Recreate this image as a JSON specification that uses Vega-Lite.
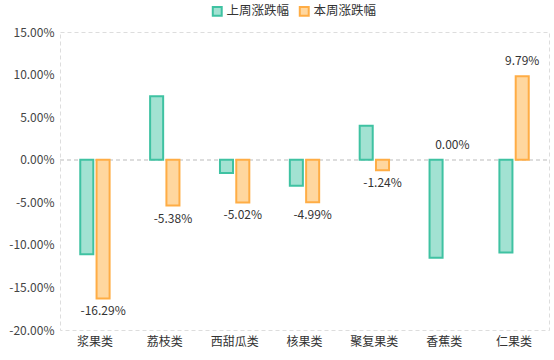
{
  "$schema": "https://vega.github.io/schema/vega-lite/v6.json",
  "autosize": {"type": "none"},
  "width": 489,
  "height": 298,
  "padding": {"left": 60, "top": 32, "right": 5, "bottom": 30},
  "background": "#ffffff",
  "config": {
    "font": "Noto Sans CJK SC",
    "view": {"stroke": "#dddddd", "strokeDash": [4, 3], "strokeWidth": 1}
  },
  "data": {
    "values": [
      {"cat": "浆果类", "series": "上周涨跌幅", "value": -11.1},
      {"cat": "浆果类", "series": "本周涨跌幅", "value": -16.29},
      {"cat": "荔枝类", "series": "上周涨跌幅", "value": 7.44},
      {"cat": "荔枝类", "series": "本周涨跌幅", "value": -5.38},
      {"cat": "西甜瓜类", "series": "上周涨跌幅", "value": -1.55},
      {"cat": "西甜瓜类", "series": "本周涨跌幅", "value": -5.02},
      {"cat": "核果类", "series": "上周涨跌幅", "value": -3.06},
      {"cat": "核果类", "series": "本周涨跌幅", "value": -4.99},
      {"cat": "聚复果类", "series": "上周涨跌幅", "value": 4.0},
      {"cat": "聚复果类", "series": "本周涨跌幅", "value": -1.24},
      {"cat": "香蕉类", "series": "上周涨跌幅", "value": -11.5},
      {"cat": "香蕉类", "series": "本周涨跌幅", "value": 0.0},
      {"cat": "仁果类", "series": "上周涨跌幅", "value": -10.9},
      {"cat": "仁果类", "series": "本周涨跌幅", "value": 9.79}
    ]
  },
  "encoding": {
    "x": {
      "field": "cat",
      "type": "nominal",
      "sort": null,
      "scale": {"paddingInner": 0.58, "paddingOuter": 0.29},
      "axis": {
        "title": null,
        "labelAngle": 0,
        "domain": false,
        "ticks": false,
        "labelColor": "#333333",
        "labelFontSize": 12,
        "labelPadding": 6
      }
    },
    "xOffset": {
      "field": "series",
      "type": "nominal",
      "sort": ["上周涨跌幅", "本周涨跌幅"],
      "scale": {"paddingInner": 0.2, "paddingOuter": 0}
    },
    "y": {
      "field": "value",
      "type": "quantitative",
      "scale": {"domain": [-20, 15], "nice": false, "zero": true},
      "axis": {
        "title": null,
        "values": [-20, -15, -10, -5, 0, 5, 10, 15],
        "labelExpr": "(datum.value < 0 ? '-' : '') + format(abs(datum.value), '.2f') + '%'",
        "grid": false,
        "domain": false,
        "ticks": false,
        "labelColor": "#444444",
        "labelFontSize": 12,
        "labelPadding": 6
      }
    }
  },
  "layer": [
    {
      "mark": {"type": "rule", "color": "#dddddd", "strokeDash": [4, 3], "strokeWidth": 1},
      "encoding": {"y": {"datum": 0}, "x": {"value": 0}, "x2": {"value": 489}, "xOffset": null}
    },
    {
      "mark": {"type": "bar", "strokeWidth": 2},
      "encoding": {
        "color": {
          "field": "series",
          "type": "nominal",
          "sort": ["上周涨跌幅", "本周涨跌幅"],
          "scale": {"range": ["#a2e2d2", "#ffd79f"]},
          "legend": {
            "title": null,
            "orient": "none",
            "direction": "horizontal",
            "legendX": 151,
            "legendY": -27,
            "symbolType": "square",
            "symbolSize": 80,
            "symbolStrokeWidth": 2,
            "labelFontSize": 12.5,
            "labelColor": "#333333",
            "columnPadding": 5,
            "labelOffset": 3,
            "encode": {
              "symbols": {"update": {"stroke": {"scale": "stroke", "field": "value"}, "strokeWidth": {"value": 2}}}
            }
          }
        },
        "stroke": {
          "field": "series",
          "type": "nominal",
          "sort": ["上周涨跌幅", "本周涨跌幅"],
          "scale": {"range": ["#3fc2a2", "#ffad45"]},
          "legend": null
        },
        "strokeOpacity": {"condition": {"test": "datum.value == 0", "value": 0}, "value": 1}
      }
    },
    {
      "transform": [
        {"filter": "datum.series == '本周涨跌幅' && datum.value < 0"},
        {"calculate": "'-' + format(abs(datum.value), '.2f') + '%'", "as": "label"}
      ],
      "mark": {"type": "text", "baseline": "top", "dy": 8, "fontSize": 12, "color": "#333333"},
      "encoding": {"text": {"field": "label", "type": "nominal"}}
    },
    {
      "transform": [
        {"filter": "datum.series == '本周涨跌幅' && datum.value >= 0"},
        {"calculate": "format(datum.value, '.2f') + '%'", "as": "label"}
      ],
      "mark": {"type": "text", "baseline": "bottom", "dy": -8, "fontSize": 12, "color": "#333333"},
      "encoding": {"text": {"field": "label", "type": "nominal"}}
    }
  ]
}
